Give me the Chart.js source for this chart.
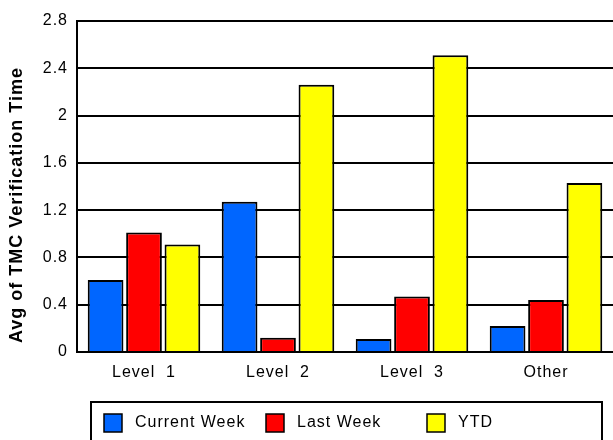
<!DOCTYPE html>
<html>
<head>
<meta charset="utf-8">
<script src="https://cdn.jsdelivr.net/npm/chart.js@4.4.1/dist/chart.umd.min.js"></script>
<style>
  body { margin: 0; background: #fff; }
  #wrap { width: 613px; height: 440px; }
</style>
</head>
<body>
<div id="wrap"><canvas id="chart" width="613" height="440"></canvas></div>
<script>
const categories = ['Level  1', 'Level  2', 'Level  3', 'Other']
const currentWeek = [0.61, 1.27, 0.11, 0.22]
const lastWeek = [1.01, 0.12, 0.47, 0.44]
const ytd = [0.91, 2.26, 2.51, 1.43]
const yTicks = [0, 0.4, 0.8, 1.2, 1.6, 2, 2.4, 2.8]

const FONT = 'Liberation Sans, Arial, sans-serif'

// axis title and boxed legend, drawn by hand like the original
const extras = {
  id: 'extras',
  beforeDraw(chart) {
    chart.ctx.letterSpacing = '1px'
  },
  afterDraw(chart) {
    const ctx = chart.ctx
    ctx.save()
    ctx.letterSpacing = '1px'
    ctx.fillStyle = '#000'
    ctx.font = 'bold 18px ' + FONT
    ctx.textAlign = 'center'
    ctx.textBaseline = 'middle'
    ctx.translate(17, 205)
    ctx.rotate(-Math.PI / 2)
    ctx.fillText('Avg of TMC Verification Time', 0, 0)
    ctx.restore()

    ctx.save()
    ctx.letterSpacing = '1px'
    ctx.strokeStyle = '#000'
    ctx.lineWidth = 2
    ctx.strokeRect(91, 402, 511, 60)
    const cols = [104, 266, 427]
    ctx.font = '16px ' + FONT
    ctx.textBaseline = 'middle'
    ctx.textAlign = 'left'
    chart.data.datasets.forEach((ds, i) => {
      ctx.fillStyle = ds.backgroundColor
      ctx.fillRect(cols[i], 414, 18, 18)
      ctx.lineWidth = 1.5
      ctx.strokeRect(cols[i], 414, 18, 18)
      ctx.fillStyle = '#000'
      ctx.fillText(ds.label, cols[i] + 31, 423)
    })
    ctx.restore()
  }
}

new Chart(document.getElementById('chart'), {
  type: 'bar',
  data: {
    labels: categories,
    datasets: [
      {label: 'Current Week', data: currentWeek, backgroundColor: '#0066ff'},
      {label: 'Last Week', data: lastWeek, backgroundColor: '#ff0000'},
      {label: 'YTD', data: ytd, backgroundColor: '#ffff00'}
    ]
  },
  options: {
    responsive: false,
    animation: false,
    layout: {padding: {left: 0, top: 21, right: 0, bottom: 0}},
    datasets: {
      bar: {
        borderColor: '#000',
        borderWidth: 2,
        categoryPercentage: 0.86,
        barPercentage: 0.93
      }
    },
    plugins: {
      legend: {display: false},
      tooltip: {enabled: false}
    },
    scales: {
      x: {
        afterFit: s => { s.height = 88 },
        grid: {drawOnChartArea: false, drawTicks: false},
        border: {color: '#000', width: 2},
        ticks: {color: '#000', padding: 11, font: {family: FONT, size: 16}}
      },
      y: {
        min: 0,
        max: 2.8,
        afterFit: s => { s.width = 77 },
        afterBuildTicks: s => { s.ticks = yTicks.map(v => ({value: v})) },
        grid: {color: '#000', lineWidth: 2, drawTicks: false},
        border: {color: '#000', width: 2},
        ticks: {
          color: '#000',
          padding: 9,
          font: {family: FONT, size: 16},
          callback: v => String(Number(v.toFixed(1)))
        }
      }
    }
  },
  plugins: [extras]
});
</script>
</body>
</html>
